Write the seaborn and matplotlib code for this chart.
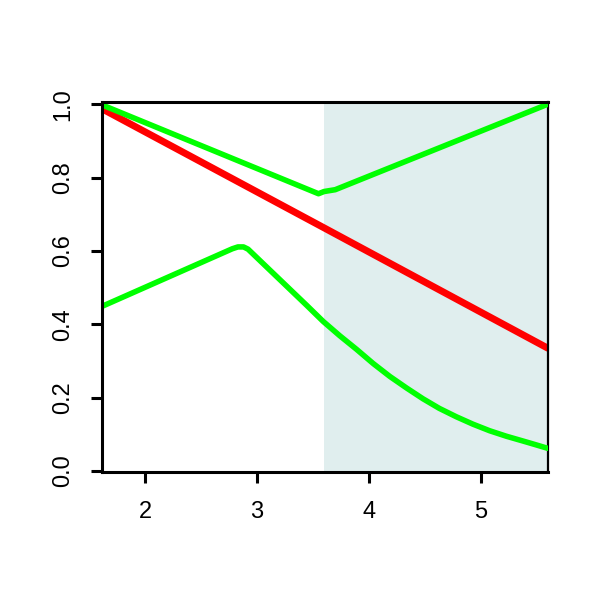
import matplotlib
matplotlib.use("Agg")
import matplotlib.pyplot as plt
import seaborn as sns
import pandas as pd

# Data
red_x = [1.6, 3.6, 5.6]
red_y = [0.99, 0.663, 0.335]

upper_x = [1.6, 3.55, 3.6, 3.7, 5.6]
upper_y = [1.0, 0.756, 0.762, 0.767, 1.0]

lower_x = [1.6, 2.78, 2.83, 2.88, 2.92, 3.146, 3.444, 3.592, 3.74,
           3.89, 4.04, 4.188, 4.34, 4.485, 4.63, 4.783, 4.93, 5.08, 5.23,
           5.378, 5.49, 5.6]
lower_y = [0.447, 0.606, 0.611, 0.611, 0.605, 0.539, 0.452, 0.408, 0.369,
           0.332, 0.293, 0.258, 0.226, 0.197, 0.171, 0.148, 0.128, 0.110, 0.095,
           0.082, 0.072, 0.062]

shade_from, shade_to = 3.6, 5.6
xticks = [2, 3, 4, 5]
yticks = [0.0, 0.2, 0.4, 0.6, 0.8, 1.0]

sns.set_style("white")
plt.rcParams["font.family"] = ["Liberation Sans", "DejaVu Sans"]

fig = plt.figure(figsize=(6, 6), dpi=100)
ax = fig.add_axes([0.170, 0.213, 0.743, 0.617])

ax.axvspan(shade_from, shade_to, color="#E0EEEE", lw=0, zorder=0)

df_red = pd.DataFrame({"x": red_x, "y": red_y})
df_up = pd.DataFrame({"x": upper_x, "y": upper_y})
df_lo = pd.DataFrame({"x": lower_x, "y": lower_y})

sns.lineplot(data=df_red, x="x", y="y", ax=ax, color="#FF0000", lw=5.0,
             sort=False, estimator=None, zorder=2)
sns.lineplot(data=df_up, x="x", y="y", ax=ax, color="#00FF00", lw=4.0,
             sort=False, estimator=None, zorder=3)
sns.lineplot(data=df_lo, x="x", y="y", ax=ax, color="#00FF00", lw=4.0,
             sort=False, estimator=None, zorder=3)

ax.set_xlim(1.615, 5.6)
ax.set_ylim(-0.003, 1.006)
ax.set_xticks(xticks)
ax.set_xticklabels([str(t) for t in xticks])
ax.set_yticks(yticks)
ax.set_yticklabels([f"{t:.1f}" for t in yticks], rotation=90, va="center")
ax.set_xlabel("")
ax.set_ylabel("")

for side in ["left", "bottom", "top"]:
    ax.spines[side].set_linewidth(2.2)
    ax.spines[side].set_color("black")
    ax.spines[side].set_zorder(5)
ax.spines["right"].set_linewidth(1.6)
ax.spines["right"].set_color("black")

ax.tick_params(axis="both", direction="out", length=8, width=2.2, color="black",
               labelsize=17, labelcolor="black", bottom=True, left=True)
ax.tick_params(axis="x", pad=13)
ax.tick_params(axis="y", pad=12)

fig.savefig("out.png", dpi=100, facecolor="white")
